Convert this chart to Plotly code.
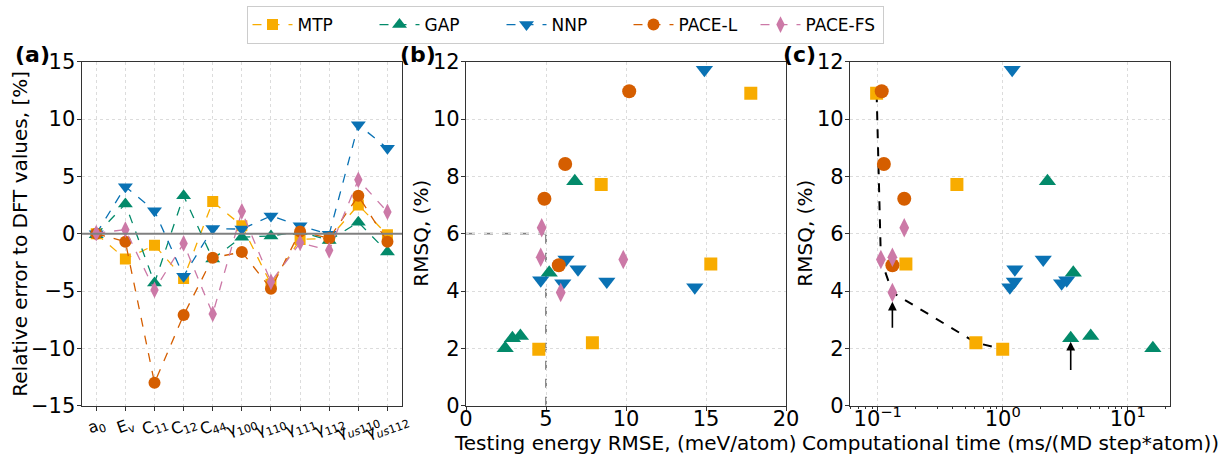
import plotly.graph_objects as go
import math

# ---------------- data ----------------
prop_labels = ["a<sub>0</sub>", "E<sub>v</sub>", "C<sub>11</sub>", "C<sub>12</sub>", "C<sub>44</sub>",
               "γ<sub>100</sub>", "γ<sub>110</sub>", "γ<sub>111</sub>", "γ<sub>112</sub>",
               "γ<sub><i>us</i>110</sub>", "γ<sub><i>us</i>112</sub>"]
prop_pos = list(range(len(prop_labels)))

mtp_err = [0.0, -2.2, -1.0, -3.9, 2.8, 0.7, -4.4, -0.5, -0.4, 2.5, -0.1]
gap_err = [-0.1, 2.6, -4.3, 3.3, -2.2, -0.3, -0.2, 0.2, -0.6, 1.0, -1.6]
nnp_err = [0.0, 4.1, 2.0, -3.7, 0.45, 0.4, 1.55, 0.7, -0.05, 9.5, 7.45]
pacel_err = [0.0, -0.7, -13.0, -7.1, -2.1, -1.6, -4.8, 0.2, -0.4, 3.3, -0.7]
pacefs_err = [0.05, 0.35, -4.9, -0.85, -7.0, 1.95, -4.2, -0.8, -1.45, 4.7, 1.9]

mtp_rmse = [17.8, 8.45, 15.3, 7.9, 4.55]
mtp_rmsq = [10.9, 7.72, 4.94, 2.2, 1.97]
mtp_time = [0.098, 0.43, 0.168, 0.61, 1.0]

gap_rmse = [6.8, 5.2, 3.4, 2.9, 2.45]
gap_rmsq = [7.83, 4.64, 2.43, 2.35, 2.0]
gap_time = [2.28, 3.67, 5.06, 3.5, 15.9]

nnp_rmse = [14.9, 6.25, 7.0, 4.67, 6.05, 8.8, 14.3]
nnp_rmsq = [11.72, 5.1, 4.76, 4.38, 4.27, 4.33, 4.13]
nnp_time = [1.19, 2.11, 1.25, 3.25, 2.96, 1.24, 1.14]

pacel_rmse = [10.2, 6.2, 4.9, 5.8]
pacel_rmsq = [10.97, 8.43, 7.22, 4.9]
pacel_time = [0.1076, 0.112, 0.163, 0.131]

pacefs_rmse = [4.73, 4.67, 5.92, 9.83]
pacefs_rmsq = [6.21, 5.18, 3.95, 5.1]
pacefs_time = [0.163, 0.131, 0.131, 0.106]

pareto_time = [0.098, 0.106, 0.131, 0.61, 1.0]
pareto_rmsq = [10.9, 5.1, 3.95, 2.2, 1.97]

ref_rmse = 5.0
ref_rmsq = 6.0

arrow_x = [0.131, 3.5]
arrow_tip = [3.63, 2.23]
arrow_tail = [2.67, 1.19]

yticks_a = [-15, -10, -5, 0, 5, 10, 15]
ctick_vals = [0.1, 1, 10]
ctick_text = ["10<sup>−1</sup>", "10<sup>0</sup>", "10<sup>1</sup>"]

# ---------------- style ----------------
names = ["MTP", "GAP", "NNP", "PACE-L", "PACE-FS"]
colors = ["#F8AC00", "#038A6A", "#0A72B4", "#D55E00", "#CC79A7"]
symbols = ["square", "triangle-up", "triangle-down", "circle", "diamond-tall"]
sizes_a = [11, 13, 13, 12, 12]
sizes_bc = [13, 15, 15, 14, 14]

errs = [mtp_err, gap_err, nnp_err, pacel_err, pacefs_err]
rmses = [mtp_rmse, gap_rmse, nnp_rmse, pacel_rmse, pacefs_rmse]
rmsqs = [mtp_rmsq, gap_rmsq, nnp_rmsq, pacel_rmsq, pacefs_rmsq]
times = [mtp_time, gap_time, nnp_time, pacel_time, pacefs_time]

FONT = "DejaVu Sans"
W, H = 1220, 456

fig = go.Figure()

for i in range(5):
    fig.add_trace(go.Scatter(
        x=prop_pos, y=errs[i], mode="lines+markers", name=names[i],
        line=dict(color=colors[i], width=1.3, dash="dash"),
        marker=dict(symbol=symbols[i], size=sizes_a[i], color=colors[i], line=dict(width=0)),
        xaxis="x", yaxis="y", showlegend=True))

for i in range(5):
    fig.add_trace(go.Scatter(
        x=rmses[i], y=rmsqs[i], mode="markers", name=names[i],
        marker=dict(symbol=symbols[i], size=sizes_bc[i], color=colors[i], line=dict(width=0)),
        xaxis="x2", yaxis="y2", showlegend=False))

fig.add_trace(go.Scatter(
    x=pareto_time, y=pareto_rmsq, mode="lines",
    line=dict(color="black", width=2, dash="dash"),
    xaxis="x3", yaxis="y3", showlegend=False))

for i in range(5):
    fig.add_trace(go.Scatter(
        x=times[i], y=rmsqs[i], mode="markers", name=names[i],
        marker=dict(symbol=symbols[i], size=sizes_bc[i], color=colors[i], line=dict(width=0)),
        xaxis="x3", yaxis="y3", showlegend=False))

def px_x(p):
    return p / W

def px_y(p):
    return 1 - p / H

dom_y = [px_y(405.7), px_y(61.7)]
dom_a = [px_x(81.7), px_x(402)]
dom_b = [px_x(466), px_x(786)]
dom_c = [px_x(850), px_x(1170)]

base = dict(
    showline=True, mirror=True, linecolor="#333333", linewidth=1.3,
    ticks="outside", ticklen=4, tickwidth=1.2, tickcolor="#333333",
    showgrid=True, gridcolor="#dcdcdc", gridwidth=1, griddash="dot",
    zeroline=False, automargin=False,
)
TICKF = dict(family=FONT, size=21, color="black")
xax = dict(base, tickfont=TICKF, ticklabelstandoff=-10)
yax = dict(base, tickfont=TICKF, ticklabelstandoff=-3)

fig.update_layout(
    width=W, height=H,
    margin=dict(l=0, r=0, t=0, b=0),
    paper_bgcolor="white", plot_bgcolor="white",
    font=dict(family=FONT, color="black"),
    xaxis=dict(base, domain=dom_a, anchor="y", range=[-0.5, 10.5], tickvals=prop_pos,
               showticklabels=False),
    yaxis=dict(yax, domain=dom_y, anchor="x", range=[-15, 15], tickvals=yticks_a),
    xaxis2=dict(xax, domain=dom_b, anchor="y2", range=[0, 20], dtick=5),
    yaxis2=dict(yax, domain=dom_y, anchor="x2", range=[0, 12], dtick=2),
    xaxis3=dict(xax, domain=dom_c, anchor="y3", type="log", range=[math.log10(0.06), math.log10(21.8)],
                tickvals=ctick_vals, ticktext=ctick_text,
                minor=dict(ticks="outside", ticklen=2.5, tickcolor="#333333", dtick="D1", showgrid=False)),
    yaxis3=dict(yax, domain=dom_y, anchor="x3", range=[0, 12], dtick=2),
    legend=dict(orientation="h", x=px_x(565), xanchor="center", y=px_y(6), yanchor="top",
                bordercolor="#cccccc", borderwidth=1, bgcolor="white",
                font=dict(family=FONT, size=17, color="black"),
                itemwidth=40, entrywidth=72),
)

# category tick labels of (a), rotated
for pos, lab in zip(prop_pos, prop_labels):
    fig.add_annotation(text=lab, x=pos, y=px_y(426), xref="x", yref="paper",
                       textangle=-20, showarrow=False, xanchor="center", yanchor="middle",
                       font=dict(family=FONT, size=16, color="black"))

# zero line in (a)
fig.add_shape(type="line", xref="x", yref="y", x0=-0.5, x1=10.5, y0=0, y1=0,
              line=dict(color="#808080", width=2), layer="above")
# reference dashed lines in (b)
fig.add_shape(type="line", xref="x2", yref="y2", x0=ref_rmse, x1=ref_rmse, y0=0, y1=ref_rmsq,
              line=dict(color="#808080", width=1.8, dash="dash"), layer="below")
fig.add_shape(type="line", xref="x2", yref="y2", x0=0, x1=ref_rmse, y0=ref_rmsq, y1=ref_rmsq,
              line=dict(color="#808080", width=1.8, dash="dash"), layer="below")

# arrows in (c)
for xa, tip, tail in zip(arrow_x, arrow_tip, arrow_tail):
    fig.add_annotation(x=math.log10(xa), y=tip, ax=math.log10(xa), ay=tail,
                       xref="x3", yref="y3", axref="x3", ayref="y3",
                       showarrow=True, arrowhead=2, arrowsize=1.1, arrowwidth=1.6,
                       arrowcolor="black", text="")

# panel labels
for lab, xp in [("(a)", 32), ("(b)", 418), ("(c)", 800)]:
    fig.add_annotation(text="<b>" + lab + "</b>", x=px_x(xp), y=px_y(54), xref="paper", yref="paper",
                       xanchor="center", yanchor="middle", showarrow=False,
                       font=dict(family=FONT, size=22, color="black"))

# axis titles
TF = dict(family=FONT, size=20, color="black")
fig.add_annotation(text="Relative error to DFT values, [%]", x=px_x(20), y=px_y(233.7),
                   xref="paper", yref="paper", textangle=-90, showarrow=False,
                   xanchor="center", yanchor="middle", font=TF)
fig.add_annotation(text="RMSQ, (%)", x=px_x(421), y=px_y(233.7),
                   xref="paper", yref="paper", textangle=-90, showarrow=False,
                   xanchor="center", yanchor="middle", font=TF)
fig.add_annotation(text="RMSQ, (%)", x=px_x(805), y=px_y(233.7),
                   xref="paper", yref="paper", textangle=-90, showarrow=False,
                   xanchor="center", yanchor="middle", font=TF)
fig.add_annotation(text="Testing energy RMSE, (meV/atom)", x=px_x(626), y=px_y(443),
                   xref="paper", yref="paper", showarrow=False,
                   xanchor="center", yanchor="middle", font=TF)
fig.add_annotation(text="Computational time (ms/(MD step*atom))", x=px_x(1010), y=px_y(443),
                   xref="paper", yref="paper", showarrow=False,
                   xanchor="center", yanchor="middle", font=TF)

fig.write_html("out.html")
